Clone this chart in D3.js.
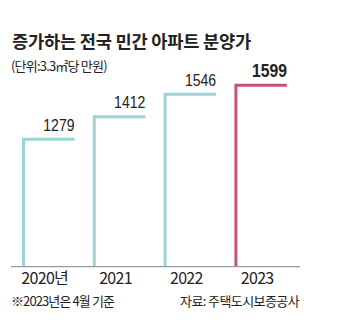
<!DOCTYPE html>
<html>
<head>
<meta charset="utf-8">
<script src="https://cdn.jsdelivr.net/npm/d3@7"></script>
<style>
  html, body { margin: 0; padding: 0; background: #fff; }
  svg { display: block; }
  text { font-family: "Noto Sans CJK KR", "Noto Sans", sans-serif; fill: #222; }
  .num { font-family: "Liberation Sans", Arial, sans-serif; }
</style>
</head>
<body>
<svg id="chart" width="345" height="330"></svg>
<script>
// 전국 민간 아파트 분양가 (3.3㎡당 만원)
const years = ["2020", "2021", "2022", "2023"];
const yearLabels = ["2020년", "2021", "2022", "2023"];
const prices = [1279, 1412, 1546, 1599];
const highlight = [false, false, false, true];

const title = "증가하는 전국 민간 아파트 분양가";
const unitNote = "(단위:3.3㎡당 만원)";
const footNote = "※2023년은 4월 기준";
const source = "자료: 주택도시보증공사";

const svg = d3.select("#chart");
const baseY = 266.7;

const x = d3.scaleBand().domain(years).range([23.5, 306.7]).paddingInner(0).paddingOuter(0);
const y = d3.scaleLinear().domain([520, 1600]).range([baseY, 85.2]);
const segW = x.bandwidth() * 0.72;

const teal = "#9dd4d7", pink = "#c4537c";

// title and unit
svg.append("text").attr("x", 12).attr("y", 47.5)
  .attr("font-size", 17.6).attr("font-weight", 700).attr("letter-spacing", -0.2)
  .attr("fill", "#1a1a1a")
  .text(title);
svg.append("text").attr("x", 11).attr("y", 71)
  .attr("font-size", 13).attr("letter-spacing", -0.8).attr("fill", "#333")
  .text(unitNote);

// step marks: a vertical rise from the baseline and a flat top
const data = years.map((yr, i) => ({ yr, label: yearLabels[i], v: prices[i], hi: highlight[i] }));

svg.append("g").selectAll("path").data(data).join("path")
  .attr("d", d => {
    const x0 = x(d.yr);
    return `M${x0},${baseY} L${x0},${y(d.v)} L${x0 + segW},${y(d.v)}`;
  })
  .attr("fill", "none")
  .attr("stroke", d => d.hi ? pink : teal)
  .attr("stroke-width", 3)
  .attr("stroke-linejoin", "miter");

// value labels
svg.append("g").selectAll("text").data(data).join("text")
  .attr("class", "num")
  .attr("text-anchor", "end")
  .attr("font-size", d => d.hi ? 18.5 : 16.5)
  .attr("font-weight", d => d.hi ? 700 : 400)
  .attr("transform", d => {
    const tx = x(d.yr) + segW, ty = y(d.v) - (d.hi ? 8.8 : 8.3);
    return `translate(${tx},${ty}) scale(0.85,1)`;
  })
  .attr("fill", "#111")
  .text(d => d3.format("d")(d.v));

// baseline
svg.append("line").attr("x1", 11).attr("x2", 300).attr("y1", baseY).attr("y2", baseY)
  .attr("stroke", "#9a9a9a").attr("stroke-width", 1.3);

// category labels
svg.append("g").selectAll("text").data(data).join("text")
  .attr("text-anchor", "middle")
  .attr("x", d => x(d.yr) + x.bandwidth() * 0.3)
  .attr("y", 284)
  .attr("font-size", 16).attr("letter-spacing", -0.7)
  .attr("fill", "#222")
  .text(d => d.label);

// notes
svg.append("text").attr("x", 11).attr("y", 305.5)
  .attr("font-size", 13).attr("letter-spacing", -0.9).attr("fill", "#333")
  .text(footNote);
svg.append("text").attr("x", 299).attr("y", 305.5).attr("text-anchor", "end")
  .attr("font-size", 13).attr("letter-spacing", -0.6).attr("fill", "#333")
  .text(source);
</script>
</body>
</html>
